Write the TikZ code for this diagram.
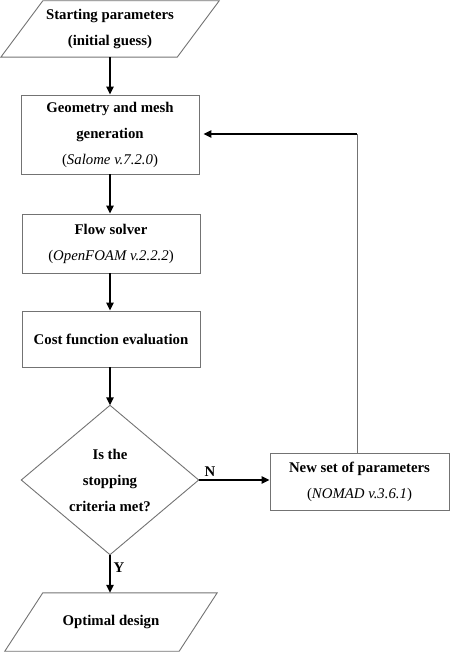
\documentclass[tikz,border=0pt]{standalone}
\usepackage{fontspec}
\setmainfont{Liberation Serif}
\usetikzlibrary{arrows.meta}
\begin{document}
\begin{tikzpicture}[x=1pt,y=-1pt,
  txt/.style={font=\bfseries\fontsize{14.8}{26}\selectfont,align=center},
  box/.style={txt,draw=black!55,line width=0.9pt,minimum width=178pt,inner sep=0pt},
  ghost/.style={txt,inner sep=0pt},
  outline/.style={draw=black!55,line width=0.9pt},
  arr/.style={line width=1.4pt,-{Triangle[length=8pt,width=7.5pt]}},
  lab/.style={font=\bfseries\fontsize{14.8}{18}\selectfont,inner sep=0pt}
]
\useasboundingbox (0,0) rectangle (456,661);
% start parallelogram
\node[ghost,minimum width=218pt,minimum height=56pt] (start) at (110,29) {Starting parameters\\(initial guess)};
\draw[outline] ([xshift=42pt]start.north west) -- (start.north east) -- ([xshift=-42pt]start.south east) -- (start.south west) -- cycle;
% boxes
\node[box,minimum height=79pt] (geom) at (110,134.5) {Geometry and mesh\\generation\\\textmd{(\textit{Salome v.7.2.0})}};
\node[box,minimum height=59pt] (flow) at (111,243.5) {Flow solver\\\textmd{(\textit{OpenFOAM v.2.2.2})}};
\node[box,minimum height=56pt] (cost) at (111,339) {Cost function evaluation};
% decision diamond
\node[ghost,minimum width=177pt,minimum height=149pt] (dec) at (110,480) {Is the\\stopping\\criteria met?};
\draw[outline] (dec.north) -- (dec.east) -- (dec.south) -- (dec.west) -- cycle;
% new params
\node[box,minimum width=179pt,minimum height=57pt] (nomad) at (359.5,481.5) {New set of parameters\\\textmd{(\textit{NOMAD v.3.6.1})}};
% end parallelogram
\node[ghost,minimum width=212pt,minimum height=58pt] (end) at (111,622) {Optimal design};
\draw[outline] ([xshift=38pt]end.north west) -- (end.north east) -- ([xshift=-38pt]end.south east) -- (end.south west) -- cycle;
% connectors
\draw[arr] (start.south -| geom.north) -- (geom.north);
\draw[arr] (geom.south) -- (geom.south |- flow.north);
\draw[arr] (flow.south -| geom.south) -- (geom.south |- cost.north);
\draw[arr] (cost.south -| dec.north) -- (dec.north);
\draw[arr] (dec.east) -- (dec.east -| nomad.west);
\draw[arr] (dec.south) -- (dec.south |- end.north);
\coordinate (corner) at (357,134);
\draw[outline] (nomad.north -| corner) -- (corner);
\draw[arr,shorten >=4pt] (corner) -- (geom.east |- corner);
% labels
\node[lab] (nlab) at (210,472) {N};
\node[lab] (ylab) at (119,568) {Y};
\end{tikzpicture}
\end{document}
